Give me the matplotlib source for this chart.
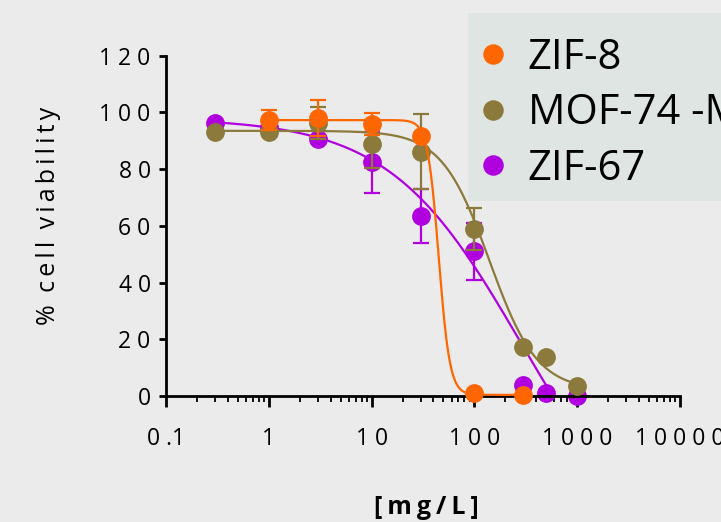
import numpy as np
import matplotlib
matplotlib.use("Agg")
import matplotlib.pyplot as plt
from matplotlib.patches import Rectangle
from matplotlib.ticker import LogLocator, NullFormatter, FixedLocator, FixedFormatter

# =========================
# 1. DONNEES
# =========================
zif8_x = [1, 3, 10, 30, 100, 300]
zif8_y = [97.3, 98.1, 96.0, 91.6, 1.2, 0.4]
zif8_err = [3.5, 6.4, 3.9, 0.0, 0.0, 0.0]

mof_x = [0.3, 1, 3, 10, 30, 100, 300, 500, 1000]
mof_y = [93.2, 93.2, 96.3, 88.9, 86.1, 58.9, 17.4, 13.9, 3.5]
mof_err = [0.0, 0.0, 5.7, 8.5, 13.2, 7.4, 0.0, 0.0, 0.0]

zif67_x = [0.3, 1, 3, 10, 30, 100, 300, 500, 1000]
zif67_y = [96.3, 95.0, 90.7, 82.4, 63.6, 51.0, 3.9, 1.0, 0.0]
zif67_err = [0.0, 0.0, 1.0, 10.8, 9.5, 10.0, 0.0, 0.0, 0.0]

# parametres des courbes ajustees (top, bottom, IC50, pente de Hill)
zif8_fit = (97.3, 0.4, 45.0, 8.0)
mof_fit = (93.5, 2.0, 140.0, 1.87)
zif67_fit = (98.0, -60.0, 281.0, 0.68)

x_ticks = [0.1, 1, 10, 100, 1000, 10000]
x_labels = ["0 .1", "1", "1 0", "1 0 0", "1 0 0 0", "1 0 0 0 0"]
y_ticks = [0, 20, 40, 60, 80, 100, 120]
y_labels = ["0", "2 0", "4 0", "6 0", "8 0", "1 0 0", "1 2 0"]

FONTS = ["Open Sans", "DejaVu Sans"]
TS = "\u2009"  # espace fine pour l'espacement des lettres


def spaced(s):
    return TS.join(s.replace(" ", TS))


# =========================
# 2. GRAPHIQUE
# =========================
bg = "#ebebeb"
W, H = 721, 522
fig = plt.figure(figsize=(W / 100, H / 100), dpi=100, facecolor=bg)
ax = fig.add_axes([166 / W, 1 - 396 / H, 514 / W, 340.3 / H])
ax.set_facecolor(bg)


def hill(x, top, bottom, ic50, n):
    return bottom + (top - bottom) / (1 + (x / ic50) ** n)


series = [
    ("ZIF-8", zif8_x, zif8_y, zif8_err, zif8_fit, "#ff6600", (1, 300), 4),
    ("MOF-74 -Mg", mof_x, mof_y, mof_err, mof_fit, "#8b7a3b", (0.3, 1000), 3),
    ("ZIF-67", zif67_x, zif67_y, zif67_err, zif67_fit, "#b000e0", (0.3, 1000), 2),
]

handles = {}
for name, xs, ys, es, fit, col, (x0, x1), z in series:
    xx = np.logspace(np.log10(x0), np.log10(x1), 400)
    ax.plot(xx, hill(xx, *fit), color=col, lw=1.6, zorder=z)
    ax.errorbar(xs, ys, yerr=es, fmt="none", ecolor=col, elinewidth=1.6,
                capsize=5.5, capthick=1.6, zorder=z, clip_on=False)
    h, = ax.plot(xs, ys, "o", color=col, ms=12.5, zorder=z + 0.5, clip_on=False)
    handles[name] = h

ax.set_xscale("log")
ax.set_xlim(0.1, 10000)
ax.set_ylim(0, 120)

ax.xaxis.set_major_locator(FixedLocator(x_ticks))
ax.xaxis.set_major_formatter(FixedFormatter(x_labels))
ax.xaxis.set_minor_locator(LogLocator(base=10, subs=np.arange(2, 10), numticks=20))
ax.xaxis.set_minor_formatter(NullFormatter())
ax.yaxis.set_major_locator(FixedLocator(y_ticks))
ax.yaxis.set_major_formatter(FixedFormatter(y_labels))

for s in ["top", "right"]:
    ax.spines[s].set_visible(False)
for s in ["left", "bottom"]:
    ax.spines[s].set_linewidth(2)
    ax.spines[s].set_color("black")

ax.tick_params(axis="x", which="major", length=8, width=2, pad=14, labelsize=16.5)
ax.tick_params(axis="x", which="minor", length=4, width=1.3)
ax.tick_params(axis="y", which="major", length=5, width=2, pad=6, labelsize=16.5)
for lab in ax.get_xticklabels() + ax.get_yticklabels():
    lab.set_family(FONTS)

ax.set_ylabel(spaced("% cell viability"), fontsize=18, family=FONTS)
ax.yaxis.set_label_coords(-0.205, 0.53)
ax.set_xlabel(spaced("[mg/L]"), fontsize=18, family=FONTS, fontweight="bold")
ax.xaxis.set_label_coords(0.506, -0.29)

# legende (fond dessine a part, coupee a droite comme l'original)
fig.add_artist(Rectangle((468 / W, 1 - 201 / H), (W - 468) / W, 188 / H,
                         transform=fig.transFigure, facecolor="#dfe5e2",
                         edgecolor="none", zorder=2))
leg = fig.legend([handles[s[0]] for s in series], [s[0] for s in series],
                 loc="upper left", bbox_to_anchor=(480 / W, 1 - 37 / H),
                 bbox_transform=fig.transFigure, frameon=False,
                 prop={"family": "Open Sans", "size": 30},
                 handlelength=0.6, handletextpad=0.54, labelspacing=0.32,
                 borderpad=0, borderaxespad=0, markerscale=1.1)
leg.set_zorder(10)

# =========================
# 3. SAUVEGARDE
# =========================
fig.savefig("out.png", dpi=100, facecolor=bg)
